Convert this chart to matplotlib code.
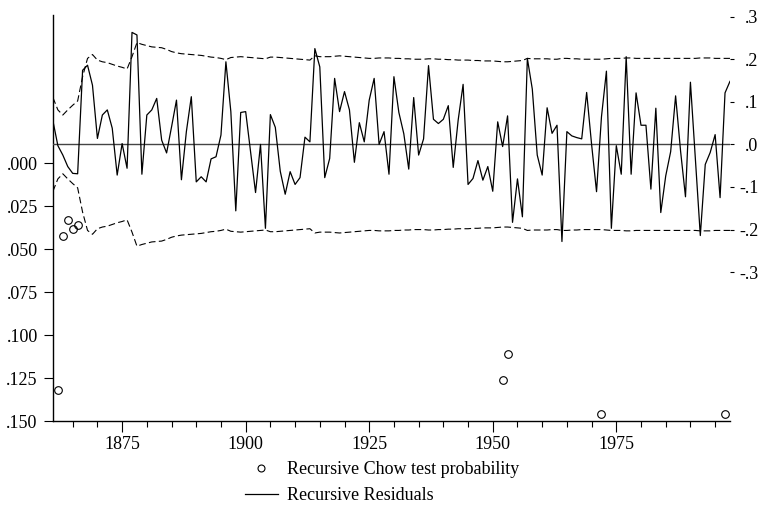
import matplotlib
matplotlib.use("Agg")
import matplotlib.pyplot as plt
from matplotlib.lines import Line2D

plt.rcParams["font.family"] = ["Liberation Serif", "DejaVu Serif"]
plt.rcParams["font.size"] = 13

years = list(range(1861, 1999))

# recursive residuals, 1861-1998
resid = [0.055, -0.003, -0.025, -0.052, -0.068, -0.069, 0.174, 0.186, 0.139, 0.014,
         0.069, 0.081, 0.038, -0.072, 0.002, -0.056, 0.263, 0.257, -0.070, 0.069,
         0.081, 0.108, 0.010, -0.020, 0.041, 0.104, -0.083, 0.030, 0.112, -0.088,
         -0.076, -0.088, -0.034, -0.029, 0.022, 0.194, 0.077, -0.156, 0.075, 0.077,
         -0.017, -0.113, 0.000, -0.197, 0.070, 0.040, -0.063, -0.117, -0.064, -0.094,
         -0.078, 0.017, 0.006, 0.225, 0.182, -0.078, -0.033, 0.155, 0.077, 0.124,
         0.081, -0.042, 0.051, 0.006, 0.104, 0.155, 0.000, 0.030, -0.070, 0.159,
         0.075, 0.025, -0.058, 0.110, -0.025, 0.013, 0.185, 0.059, 0.049, 0.059,
         0.091, -0.054, 0.057, 0.141, -0.094, -0.080, -0.038, -0.084, -0.052, -0.110,
         0.053, -0.005, 0.067, -0.183, -0.081, -0.170, 0.202, 0.130, -0.025, -0.072,
         0.086, 0.026, 0.045, -0.228, 0.030, 0.020, 0.016, 0.013, 0.122, 0.000,
         -0.111, 0.065, 0.172, -0.197, -0.003, -0.070, 0.206, -0.070, 0.121, 0.045,
         0.045, -0.105, 0.085, -0.160, -0.074, -0.017, 0.114, -0.015, -0.123, 0.146,
         -0.035, -0.214, -0.047, -0.019, 0.023, -0.125, 0.121, 0.148]

# two standard error band (plotted as +/-)
band = [0.110, 0.081, 0.069, 0.081, 0.092, 0.102, 0.159, 0.202, 0.211, 0.198,
        0.194, 0.192, 0.188, 0.184, 0.181, 0.177, 0.206, 0.239, 0.235, 0.232,
        0.229, 0.228, 0.227, 0.223, 0.218, 0.215, 0.213, 0.212, 0.211, 0.210,
        0.209, 0.207, 0.205, 0.204, 0.202, 0.199, 0.204, 0.205, 0.206, 0.205,
        0.204, 0.203, 0.202, 0.201, 0.205, 0.205, 0.204, 0.203, 0.202, 0.201,
        0.200, 0.199, 0.198, 0.208, 0.206, 0.206, 0.206, 0.207, 0.208, 0.207,
        0.206, 0.205, 0.204, 0.203, 0.202, 0.202, 0.203, 0.203, 0.203, 0.202,
        0.202, 0.201, 0.201, 0.200, 0.200, 0.200, 0.201, 0.201, 0.200, 0.200,
        0.199, 0.199, 0.198, 0.198, 0.198, 0.197, 0.197, 0.196, 0.196, 0.196,
        0.195, 0.194, 0.194, 0.195, 0.196, 0.197, 0.202, 0.201, 0.201, 0.201,
        0.201, 0.200, 0.200, 0.202, 0.202, 0.201, 0.201, 0.200, 0.200, 0.200,
        0.200, 0.200, 0.201, 0.202, 0.202, 0.202, 0.203, 0.203, 0.202, 0.202,
        0.202, 0.202, 0.202, 0.202, 0.202, 0.202, 0.202, 0.202, 0.202, 0.202,
        0.202, 0.203, 0.203, 0.203, 0.202, 0.202, 0.202, 0.202]

chow_years = [1862, 1863, 1864, 1865, 1866, 1952, 1953, 1972, 1997]
chow_prob = [0.132, 0.042, 0.033, 0.038, 0.036, 0.126, 0.111, 0.146, 0.146]

left_ticks = [0.0, 0.025, 0.05, 0.075, 0.1, 0.125, 0.15]
left_labels = [".000", ".025", ".050", ".075", ".100", ".125", ".150"]
right_ticks = [0.3, 0.2, 0.1, 0.0, -0.1, -0.2, -0.3]
right_labels = [".3", ".2", ".1", ".0", "-.1", "-.2", "-.3"]

fig = plt.figure(figsize=(7.65, 5.19), dpi=100)
ax = fig.add_axes([0.0692, 0.1888, 0.885, 0.782])
ax2 = ax.twinx()

# probability axis (left, inverted)
ax.plot(chow_years, chow_prob, 'o', markerfacecolor='none', markeredgecolor='black',
        markersize=5.5, markeredgewidth=0.8, zorder=3)
ax.set_ylim(0.150, -0.0863)
ax.set_yticks(left_ticks)
ax.set_yticklabels(left_labels)
ax.set_xlim(1861, 1998)
ax.set_xticks([1875, 1900, 1925, 1950, 1975])
ax.set_xticks(range(1865, 1998, 5), minor=True)
ax.tick_params(axis='x', which='major', direction='out', length=8, width=0.8, pad=3)
ax.tick_params(axis='x', which='minor', direction='out', length=4, width=0.8)
ax.tick_params(axis='y', direction='out', length=6.5, width=0.8, pad=4.5)
ax.spines['top'].set_visible(False)
ax.spines['right'].set_visible(False)
for s in ['left', 'bottom']:
    ax.spines[s].set_linewidth(1.0)

# residual axis (right)
ax2.axhline(0, color='#444444', linewidth=1.0)
ax2.plot(years, resid, color='black', linewidth=0.9)
ax2.plot(years, band, color='black', linewidth=0.8, linestyle=(0, (6, 3)))
ax2.plot(years, [-b for b in band], color='black', linewidth=0.8, linestyle=(0, (6, 3)))
ax2.set_ylim(-0.6495, 0.3035)
ax2.set_yticks(right_ticks)
ax2.set_yticklabels(right_labels, ha='right')
ax2.tick_params(axis='y', direction='out', length=3, width=0.8, pad=17.5)
for s in ax2.spines.values():
    s.set_visible(False)

handles = [
    Line2D([], [], linestyle='none', marker='o', markerfacecolor='none',
           markeredgecolor='black', markersize=5, markeredgewidth=0.8),
    Line2D([], [], color='black', linewidth=0.9),
]
fig.legend(handles, ["Recursive Chow test probability", "Recursive Residuals"],
           loc='upper left', bbox_to_anchor=(236 / 765, 1 - 452 / 519),
           frameon=False, handlelength=1.8, handletextpad=0.5, labelspacing=0.5,
           borderpad=0)

fig.savefig("out.png", dpi=100)
